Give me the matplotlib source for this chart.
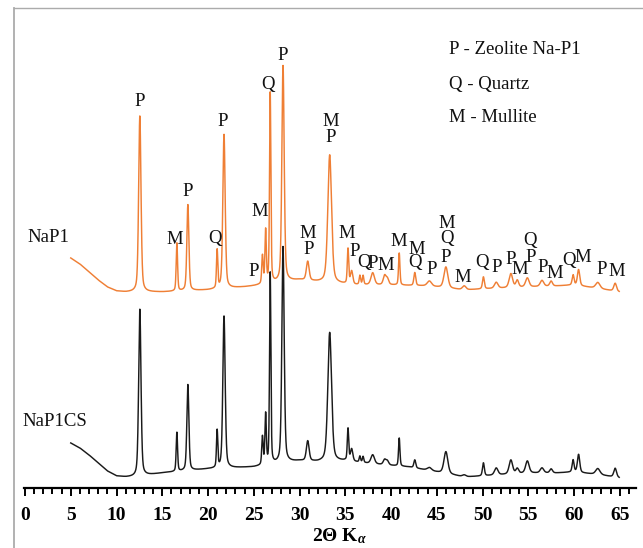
import numpy as np
import matplotlib
matplotlib.use("Agg")
import matplotlib.pyplot as plt
from matplotlib.lines import Line2D
from matplotlib.ticker import MultipleLocator

plt.rcParams['font.family'] = ['Liberation Serif', 'DejaVu Serif']
plt.rcParams['mathtext.fontset'] = 'custom'
plt.rcParams['mathtext.rm'] = 'Liberation Serif:bold'
plt.rcParams['mathtext.it'] = 'Liberation Serif:italic:bold'
plt.rcParams['mathtext.bf'] = 'Liberation Serif:bold'

# ---------------- data (stacked a.u.) ----------------
peak_angle = [12.55, 16.6, 17.8, 21.0, 21.75, 25.95, 26.3, 26.8, 28.2, 30.9,
              33.3, 35.3, 35.7, 36.6, 36.95, 38.0, 39.3, 39.6, 40.9, 42.6,
              44.2, 46.0, 48.0, 50.1, 51.5, 53.1, 53.8, 54.9, 56.5, 57.5,
              59.9, 60.5, 62.6, 64.5]
peak_fwhm = [0.3, 0.18, 0.26, 0.17, 0.3, 0.18, 0.18, 0.17, 0.3, 0.35,
             0.48, 0.18, 0.3, 0.18, 0.18, 0.45, 0.35, 0.35, 0.18, 0.24,
             0.55, 0.5, 0.45, 0.24, 0.45, 0.45, 0.35, 0.45, 0.45, 0.35,
             0.24, 0.3, 0.55, 0.35]

nap1_height = [176, 48, 86, 38, 154, 28, 53, 190, 216, 19,
               128, 35, 13, 9, 9, 12, 9, 6, 32, 13,
               5, 21, 4, 12, 6, 14, 7, 9, 6, 5,
               10, 16, 6, 8]
nap1cs_height = [167, 39, 86, 37, 152, 28, 50, 191, 216, 20,
                 129, 32, 12, 6, 6, 9, 5, 4, 28, 8,
                 3, 22, 2, 13, 7, 14, 5, 12, 5, 4,
                 12, 18, 6, 9]

nap1_bg_angle = [5, 6, 7, 8, 9, 10, 11, 12, 15, 20, 24, 25, 29, 30, 32, 36,
                 40, 44, 48, 50, 55, 58, 60, 63, 65]
nap1_bg = [230, 224, 216, 208, 201, 197, 196, 196, 196, 198, 201, 202, 207,
           208, 206, 203, 203, 202, 198, 199, 201, 202, 203, 199, 196]
nap1cs_bg_angle = [5, 6, 7, 8, 9, 10, 11, 12, 15, 20, 25, 29, 30, 32, 35, 38,
                   42, 45, 48, 50, 55, 58, 60, 63, 65]
nap1cs_bg = [45, 40, 33, 25, 17, 12, 11, 11, 15, 19, 21, 26, 27, 26, 27, 24,
             21, 16, 11, 12, 15, 15, 16, 13, 10]

# phase labels: letter, 2theta, height
phase_letter = ['P', 'M', 'P', 'Q', 'P', 'P', 'M', 'Q', 'P', 'M', 'P', 'M', 'P',
                'M', 'P', 'Q', 'P', 'M', 'M', 'M', 'Q', 'P', 'M', 'Q', 'P', 'M',
                'Q', 'P', 'P', 'M', 'Q', 'P', 'P', 'M', 'Q', 'M', 'P', 'M']
phase_angle = [12.57, 16.39, 17.81, 20.77, 21.64, 25.03, 25.68, 26.56, 28.20,
               30.93, 31.04, 33.44, 33.44, 35.19, 36.07, 37.05, 38.03, 39.45,
               40.87, 42.84, 42.62, 44.48, 46.12, 46.12, 46.01, 47.87, 49.95,
               51.58, 53.11, 54.10, 55.19, 55.30, 56.61, 57.92, 59.45, 60.98,
               63.06, 64.70]
phase_y = [386, 249, 296, 249, 366, 216, 276, 403, 433, 254, 238, 366, 351,
           255, 236, 225, 224, 223, 247, 239, 225, 219, 265, 249, 231, 210,
           226, 220, 228, 218, 248, 231, 220, 215, 228, 230, 219, 217]

legend_lines = ['P - Zeolite Na-P1', 'Q - Quartz', 'M - Mullite']
xticks = list(range(0, 70, 5))

# ---------------- build patterns ----------------
two_theta = np.arange(5.0, 64.95, 0.01)


def pattern(bg_a, bg_i, heights):
    y = np.interp(two_theta, bg_a, bg_i)
    for c, h, w in zip(peak_angle, heights, peak_fwhm):
        d = (two_theta - c) / w
        gauss = np.exp(-4 * np.log(2) * d ** 2)
        lor = 1.0 / (1.0 + 4 * d ** 2)
        y = y + h * (0.6 * gauss + 0.4 * lor)
    return y


nap1 = pattern(nap1_bg_angle, nap1_bg, nap1_height)
nap1cs = pattern(nap1cs_bg_angle, nap1cs_bg, nap1cs_height)

# ---------------- figure ----------------
W, H = 643, 548
fig = plt.figure(figsize=(W / 100, H / 100), dpi=100)
px_per = 9.15
x0 = 25.0
xlo, xhi = -0.1, 66.8
ax = fig.add_axes([(x0 + xlo * px_per) / W, 60 / H,
                   (xhi - xlo) * px_per / W, 480 / H])
ax.set_xlim(xlo, xhi)
ax.set_ylim(0, 480)

ax.plot(two_theta, nap1, color='#EF7F35', lw=1.05)
ax.plot(two_theta, nap1cs, color='#1a1a1a', lw=1.05)

for s in ['top', 'right', 'left']:
    ax.spines[s].set_visible(False)
ax.spines['bottom'].set_linewidth(1.6)
ax.set_yticks([])
ax.set_xticks(xticks)
ax.xaxis.set_minor_locator(MultipleLocator(1))
ax.tick_params(axis='x', which='major', direction='out', length=5.5, width=1.4,
               pad=8, labelsize=14)
ax.tick_params(axis='x', which='minor', direction='out', length=4, width=1.4)
for lab in ax.get_xticklabels():
    lab.set_fontweight('bold')

for letter, a, yy in zip(phase_letter, phase_angle, phase_y):
    ax.text(a, yy, letter, ha='center', va='center', fontsize=13.5, color='#111')

ax.text(0.3, 488 - 238, 'NaP1', ha='left', va='center', fontsize=13.5, color='#111')
ax.text(-0.3, 488 - 422, 'NaP1CS', ha='left', va='center', fontsize=13.5, color='#111')

for i, t in enumerate(legend_lines):
    ax.text(46.3, 488 - (50 + i * 34), t, ha='left', va='center', fontsize=13.5,
            color='#111')

fig.text(339 / W, 1 - 536 / H, r'2Θ K$_{\alpha}$', ha='center', va='center',
         fontsize=14, fontweight='bold')

# image frame (top and left)
fig.add_artist(Line2D([14 / W, 14 / W], [0, 1 - 8 / H], color='#ABABAB', lw=1.3,
                      transform=fig.transFigure))
fig.add_artist(Line2D([14 / W, 1], [1 - 8 / H, 1 - 8 / H], color='#ABABAB', lw=1.0,
                      transform=fig.transFigure))

fig.savefig('out.png', dpi=100)
